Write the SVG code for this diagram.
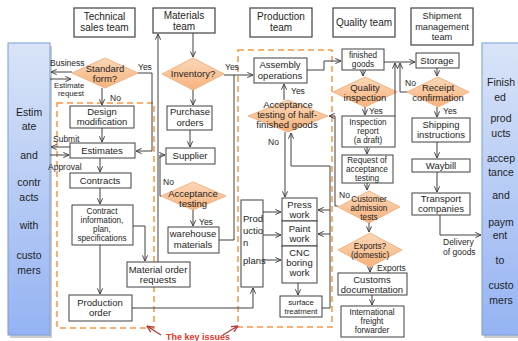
<svg xmlns="http://www.w3.org/2000/svg" width="518" height="341" viewBox="0 0 518 341">
<defs>
<linearGradient id="bg" x1="0" y1="0" x2="0" y2="1"><stop offset="0" stop-color="#d9e4f7"/><stop offset="1" stop-color="#95b3f3"/></linearGradient>
<linearGradient id="og" x1="0" y1="0" x2="0" y2="1"><stop offset="0" stop-color="#fbd8b8"/><stop offset="1" stop-color="#f6b27c"/></linearGradient>
<marker id="a" viewBox="0 0 8 8" refX="7.5" refY="4" markerWidth="7" markerHeight="7" orient="auto" markerUnits="userSpaceOnUse"><path d="M1,1 L7.5,4 L1,7" fill="none" stroke="#404040" stroke-width="1.1"/></marker>
<marker id="r" viewBox="0 0 8 8" refX="7.5" refY="4" markerWidth="8" markerHeight="8" orient="auto" markerUnits="userSpaceOnUse"><path d="M1,1 L7.5,4 L1,7" fill="none" stroke="#b03a3a" stroke-width="1.3"/></marker>
</defs>
<style>
.box{fill:#fff;stroke:#404040;stroke-width:1}
.hdr{fill:#fff;stroke:#404040;stroke-width:1.2}
.dia{fill:url(#og);stroke:#f3b385;stroke-width:1}
.blue{fill:url(#bg);stroke:#7a9cd8;stroke-width:1}
.sh{fill:#9a9a9a;opacity:0.5}
text{font-family:"Liberation Sans",Arial,sans-serif;fill:#1e1e1e}
.t{font-size:9.5px;text-anchor:middle}
.c{font-size:8.2px;text-anchor:middle}
.h{font-size:10px;text-anchor:middle}
.h2{font-size:9.2px;text-anchor:middle}
.b{font-size:10.5px;text-anchor:middle}
.s{font-size:7.8px;text-anchor:middle}
.l{font-size:8.5px}
.l2{font-size:7.8px}
.ln{fill:none;stroke:#404040;stroke-width:1}
.ar{marker-end:url(#a)}
.dash{fill:none;stroke:#f79646;stroke-width:1.5;stroke-dasharray:6,4}
</style>

<!-- key-issue regions -->
<g id="key-issues">
<rect class="dash" x="57" y="103" width="97" height="225"/>
<rect class="dash" x="238" y="50" width="94" height="277"/>
<text x="166" y="340" style="font-size:9px;font-weight:bold;fill:#e0392b">The key issues</text>
<path d="M161,335 Q153,330 147,326" fill="none" stroke="#b03a3a" stroke-width="1.3" marker-end="url(#r)"/>
<path d="M223,335 Q231,330 238,326" fill="none" stroke="#b03a3a" stroke-width="1.3" marker-end="url(#r)"/>
</g>

<!-- side panels -->
<g id="customers-left">
<rect class="sh" x="10" y="46" width="42" height="292"/>
<rect class="blue" x="8" y="43" width="42" height="292"/>
<text class="b" x="29" y="116">Estim</text><text class="b" x="29" y="130">ate</text>
<text class="b" x="29" y="159">and</text>
<text class="b" x="29" y="186">contr</text><text class="b" x="29" y="201">acts</text>
<text class="b" x="29" y="229">with</text>
<text class="b" x="29" y="259">custo</text><text class="b" x="29" y="274">mers</text>
</g>
<g id="customers-right">
<rect class="sh" x="484" y="46" width="40" height="292"/>
<rect class="blue" x="482" y="43" width="40" height="292"/>
<text class="b" x="501" y="86">Finish</text><text class="b" x="500" y="101">ed</text>
<text class="b" x="501" y="122">prod</text><text class="b" x="501" y="137">ucts</text>
<text class="b" x="501" y="162">accep</text><text class="b" x="501" y="176">tance</text>
<text class="b" x="501" y="199">and</text>
<text class="b" x="501" y="226">paym</text><text class="b" x="500" y="239">ent</text>
<text class="b" x="500" y="264">to</text>
<text class="b" x="501" y="289">custo</text><text class="b" x="501" y="304">mers</text>
</g>

<!-- headers -->
<g id="hdr-tech"><rect class="hdr" x="74" y="8" width="61" height="29"/><text class="h" x="104.5" y="20">Technical</text><text class="h" x="104.5" y="31">sales team</text></g>
<g id="hdr-materials"><rect class="hdr" x="153" y="8" width="62" height="25"/><text class="h" x="184" y="19">Materials</text><text class="h" x="184" y="29.5">team</text></g>
<g id="hdr-production"><rect class="hdr" x="250" y="8" width="62" height="29"/><text class="h" x="281" y="20">Production</text><text class="h" x="281" y="31">team</text></g>
<g id="hdr-quality"><rect class="hdr" x="333" y="8" width="62" height="29"/><text class="h" x="364" y="26">Quality team</text></g>
<g id="hdr-shipment"><rect class="hdr" x="411" y="8" width="62" height="37"/><text class="h2" x="442" y="19">Shipment</text><text class="h2" x="442" y="29.5">management</text><text class="h2" x="442" y="40">team</text></g>

<!-- technical sales column -->
<g id="standard-form"><polygon class="dia" points="72,73 105,58 138,73 105,88"/><text class="t" x="105" y="72">Standard</text><text class="t" x="105" y="82">form?</text></g>
<g id="design-mod"><rect class="box" x="70" y="106" width="64" height="22"/><text class="t" x="102" y="115">Design</text><text class="t" x="102" y="125">modification</text></g>
<g id="estimates"><rect class="box" x="70" y="143" width="65" height="15"/><text class="t" x="102" y="154">Estimates</text></g>
<g id="contracts"><rect class="box" x="70" y="173" width="61" height="15"/><text class="t" x="100" y="184">Contracts</text></g>
<g id="contract-info"><rect class="box" x="72" y="205" width="61" height="40"/><text class="c" x="102" y="213.5">Contract</text><text class="c" x="102" y="222.5">information,</text><text class="c" x="102" y="231.5">plan,</text><text class="c" x="102" y="240.5">specifications</text></g>
<g id="production-order"><rect class="box" x="69" y="295" width="63" height="26"/><text class="t" x="100" y="306">Production</text><text class="t" x="100" y="316">order</text></g>
<g id="material-order"><rect class="box" x="127" y="262" width="63" height="25"/><text class="t" x="158" y="273">Material order</text><text class="t" x="158" y="283">requests</text></g>

<!-- materials column -->
<g id="inventory"><polygon class="dia" points="162,74 193,58 224,74 193,90"/><text class="t" x="193" y="77">Inventory?</text></g>
<g id="purchase"><rect class="box" x="167" y="106" width="45" height="24"/><text class="t" x="190" y="115">Purchase</text><text class="t" x="190" y="125.5">orders</text></g>
<g id="supplier"><rect class="box" x="166" y="148" width="49" height="16"/><text class="t" x="190" y="159">Supplier</text></g>
<g id="acceptance"><polygon class="dia" points="161,196 193,182 226,196 193,210"/><text class="t" x="193" y="197">Acceptance</text><text class="t" x="193" y="207">testing</text></g>
<g id="warehouse"><rect class="box" x="168" y="227" width="51" height="26"/><text class="t" x="193" y="237">warehouse</text><text class="t" x="193" y="248">materials</text></g>

<!-- production column -->
<g id="assembly"><rect class="box" x="254" y="58" width="53" height="25"/><text class="t" x="280" y="68">Assembly</text><text class="t" x="280" y="79">operations</text></g>
<g id="half-finished"><polygon class="dia" points="248,116 288,100 328,116 288,132"/><text class="t" x="288" y="108">Acceptance</text><text class="t" x="287" y="118">testing of half-</text><text class="t" x="287" y="128">finished goods</text></g>
<g id="plans"><rect class="box" x="241" y="200" width="22" height="87"/><text class="t" x="243" y="222" style="text-anchor:start">Prod</text><text class="t" x="243" y="234" style="text-anchor:start">uctio</text><text class="t" x="243" y="246" style="text-anchor:start">n</text><text class="t" x="243" y="264" style="text-anchor:start">plans</text></g>
<g id="press"><rect class="box" x="282" y="198" width="35" height="23"/><text class="t" x="299.5" y="208">Press</text><text class="t" x="299.5" y="218">work</text></g>
<g id="paint"><rect class="box" x="282" y="221" width="35" height="25"/><text class="t" x="299.5" y="232">Paint</text><text class="t" x="299.5" y="242">work</text></g>
<g id="cnc"><rect class="box" x="282" y="246" width="35" height="37"/><text class="t" x="299.5" y="256">CNC</text><text class="t" x="299.5" y="266">boring</text><text class="t" x="299.5" y="276">work</text></g>
<g id="surface"><rect class="box" x="280" y="296" width="42" height="21"/><text class="s" x="301" y="305">surface</text><text class="s" x="301" y="314">treatment</text></g>

<!-- quality column -->
<g id="finished-goods"><rect class="box" x="342" y="49" width="42" height="21"/><text class="c" x="363" y="58">finished</text><text class="c" x="363" y="67">goods</text></g>
<g id="quality-inspection"><polygon class="dia" points="333,92 365,77 397,92 365,107"/><text class="t" x="365" y="91">Quality</text><text class="t" x="365" y="101">inspection</text></g>
<g id="inspection-report"><rect class="box" x="342" y="116" width="53" height="31"/><text class="c" x="368" y="125">Inspection</text><text class="c" x="368" y="134">report</text><text class="c" x="368" y="143">(a draft)</text></g>
<g id="request"><rect class="box" x="342" y="155" width="51" height="28"/><text class="c" x="367" y="163">Request of</text><text class="c" x="367" y="172">acceptance</text><text class="c" x="367" y="181">testing</text></g>
<g id="customer-tests"><polygon class="dia" points="338,207 369,191 400,207 369,223"/><text class="c" x="369" y="202">Customer</text><text class="c" x="369" y="211">admission</text><text class="c" x="369" y="220">tests</text></g>
<g id="exports"><polygon class="dia" points="338,250 370,233 402,250 370,267"/><text class="c" x="370" y="249">Exports?</text><text class="c" x="370" y="258">(domestic)</text></g>
<g id="customs"><rect class="box" x="338" y="273" width="69" height="22"/><text class="t" x="372" y="283">Customs</text><text class="t" x="372" y="293">documentation</text></g>
<g id="freight"><rect class="box" x="341" y="306" width="63" height="31"/><text class="c" x="372" y="315">International</text><text class="c" x="372" y="324">freight</text><text class="c" x="372" y="333">forwarder</text></g>

<!-- shipment column -->
<g id="storage"><rect class="box" x="416" y="53" width="43" height="15"/><text class="t" x="437" y="64">Storage</text></g>
<g id="receipt"><polygon class="dia" points="407,92 438,77 469,92 438,107"/><text class="t" x="438" y="91">Receipt</text><text class="t" x="438" y="101">confirmation</text></g>
<g id="shipping"><rect class="box" x="412" y="118" width="58" height="24"/><text class="t" x="441" y="128">Shipping</text><text class="t" x="441" y="138">instructions</text></g>
<g id="waybill"><rect class="box" x="412" y="159" width="58" height="13"/><text class="t" x="441" y="169">Waybill</text></g>
<g id="transport"><rect class="box" x="412" y="193" width="58" height="22"/><text class="t" x="441" y="202">Transport</text><text class="t" x="441" y="212">companies</text></g>

<!-- connectors -->
<g id="connectors">
<path class="ln ar" d="M72,72 H51"/>
<path class="ln ar" d="M50,79 H71"/>
<path class="ln ar" d="M102,88 V105"/>
<path class="ln ar" d="M138,73 H152 V151 H136"/>
<path class="ln ar" d="M102,128 V142"/>
<path class="ln ar" d="M70,147 H51"/>
<path class="ln ar" d="M50,155 H69"/>
<path class="ln ar" d="M100,158 V172"/>
<path class="ln ar" d="M100,188 V204"/>
<path class="ln ar" d="M100,245 V294"/>
<path class="ln ar" d="M133,226 H145 V261"/>
<path class="ln ar" d="M158,262 V34"/>
<path class="ln ar" d="M132,308 H253 V288"/>
<path class="ln ar" d="M193,33 V57"/>
<path class="ln ar" d="M193,90 V105"/>
<path class="ln ar" d="M190,130 V147"/>
<path class="ln ar" d="M161,196 H160 V155 H165"/>
<path class="ln ar" d="M193,210 V226"/>
<path class="ln" d="M219,240 H234 V75"/>
<path class="ln ar" d="M224,75 H253"/>
<path class="ln ar" d="M284,100 V84"/>
<path class="ln ar" d="M307,70 H324 V61 H341"/>
<path class="ln ar" d="M285,132 V197"/>
<path class="ln ar" d="M322,308 H330 V166 H291 V133"/>
<path class="ln ar" d="M330,234 H318"/>
<path class="ln ar" d="M330,210 H318"/>
<path class="ln ar" d="M263,212 H281"/>
<path class="ln ar" d="M263,235 H281"/>
<path class="ln ar" d="M263,260 H281"/>
<path class="ln ar" d="M298,283 V295"/>
<path class="ln ar" d="M363,70 V76"/>
<path class="ln ar" d="M384,62 H415"/>
<path class="ln ar" d="M395,116 V63"/>
<path class="ln ar" d="M407,92 H400 V63"/>
<path class="ln ar" d="M365,107 V115"/>
<path class="ln ar" d="M367,147 V154"/>
<path class="ln ar" d="M367,183 V190"/>
<path class="ln ar" d="M338,206 H335 V116 H329"/>
<path class="ln ar" d="M369,223 V232"/>
<path class="ln ar" d="M370,267 V272"/>
<path class="ln ar" d="M372,295 V305"/>
<path class="ln ar" d="M437,68 V76"/>
<path class="ln ar" d="M437,107 V117"/>
<path class="ln ar" d="M437,142 V158"/>
<path class="ln ar" d="M437,172 V192"/>
<path class="ln ar" d="M440,215 V235 H481"/>
<text class="l" x="50" y="66">Business</text>
<text class="l2" x="54" y="88">Estimate</text>
<text class="l2" x="58" y="96">request</text>
<text class="l" x="138" y="70">Yes</text>
<text class="l" x="110" y="101">No</text>
<text class="l" x="53" y="142">Submit</text>
<text class="l" x="48" y="170">Approval</text>
<text class="l" x="225" y="70">Yes</text>
<text class="l" x="163" y="185">No</text>
<text class="l" x="199" y="225">Yes</text>
<text class="l" x="291" y="94">Yes</text>
<text class="l" x="268" y="145">No</text>
<text class="l" x="369" y="114">Yes</text>
<text class="l" x="339" y="198">No</text>
<text class="l" x="405" y="86">No</text>
<text class="l" x="443" y="114">Yes</text>
<text class="l" x="377" y="271">Exports</text>
<text class="l" x="443" y="245">Delivery</text>
<text class="l" x="443" y="255">of goods</text>
</g>
</svg>
